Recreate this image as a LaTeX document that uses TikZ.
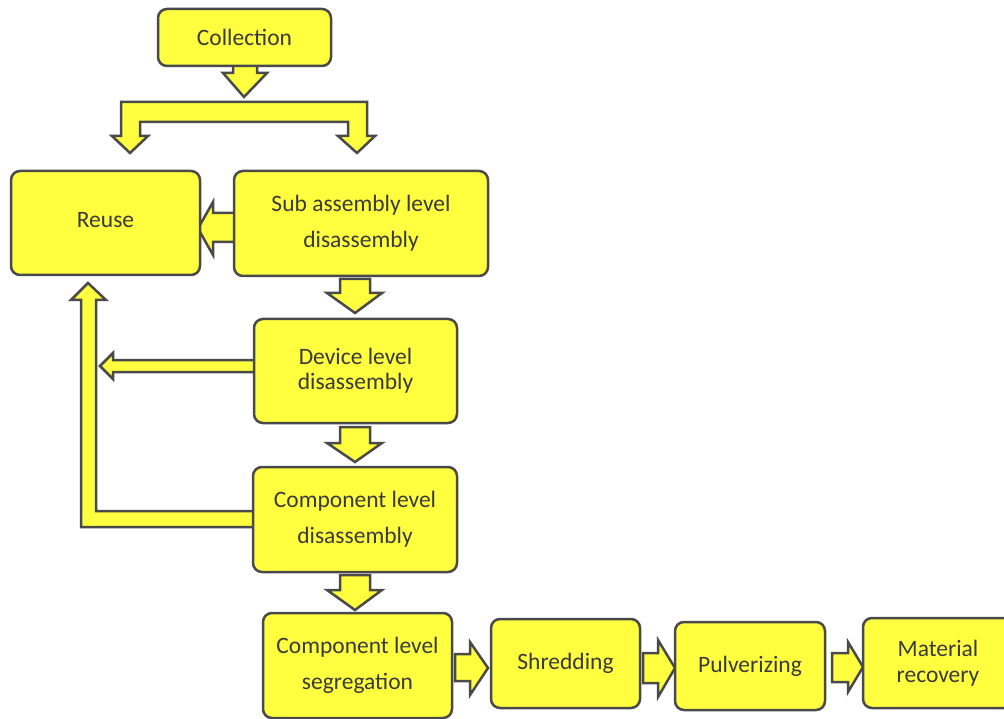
\documentclass[tikz,border=0pt]{standalone}
\usepackage{fontspec}
\setmainfont{Carlito}
\definecolor{yfill}{HTML}{FFFF40}
\definecolor{bline}{HTML}{4A4A4A}
\definecolor{tcol}{HTML}{3A3A3A}
\begin{document}
\begin{tikzpicture}[x=1pt,y=-1pt,
  box/.style={draw=bline,fill=yfill,line width=2.5pt,rounded corners=9pt,
    align=center,text=tcol,inner sep=0pt,
    font=\fontsize{23.5}{26}\selectfont},
  blockarrow/.style={draw=bline,fill=yfill,line width=2.5pt,line join=miter}]
\useasboundingbox (0,0) rectangle (1004,719);
% block arrows (drawn under the boxes)
\draw[blockarrow] (233,64) -- (233,73) -- (223,73) -- (244,97) -- (267,73) -- (257,73) -- (257,64) -- cycle;
\draw[blockarrow] (112,136) -- (130,153) -- (148,136) -- (140,136) -- (140,122) -- (348,122) -- (348,136) -- (338,136) -- (357,153) -- (375,136) -- (367,136) -- (367,102) -- (121,102) -- (121,136) -- cycle;
\draw[blockarrow] (237,213) -- (213,213) -- (213,202) -- (198,228.5) -- (213,255) -- (213,242) -- (237,242) -- cycle;
\draw[blockarrow] (340,279) -- (340,293) -- (327,293) -- (355,313) -- (382,293) -- (370,293) -- (370,279) -- cycle;
\draw[blockarrow] (340,427) -- (340,443) -- (327,443) -- (355,462) -- (382,443) -- (370,443) -- (370,427) -- cycle;
\draw[blockarrow] (340,575) -- (340,590) -- (327,590) -- (355,610) -- (382,590) -- (370,590) -- (370,575) -- cycle;
\draw[blockarrow] (455,654) -- (470,654) -- (470,642) -- (488,668) -- (470,695) -- (470,681) -- (455,681) -- cycle;
\draw[blockarrow] (643,653) -- (658,653) -- (658,640) -- (675,668) -- (658,697) -- (658,683) -- (643,683) -- cycle;
\draw[blockarrow] (832,653) -- (848,653) -- (848,642) -- (863,667) -- (848,692) -- (848,682) -- (832,682) -- cycle;
\draw[blockarrow] (256,360) -- (113,360) -- (113,353) -- (100,366) -- (113,379) -- (113,372) -- (256,372) -- cycle;
\draw[blockarrow] (256,511) -- (96,511) -- (96,300) -- (106,300) -- (88,283) -- (71,300) -- (81,300) -- (81,527) -- (256,527) -- cycle;
% boxes
\node[box,minimum width=173pt,minimum height=57pt] (col) at (244.5,37.5) {Collection};
\node[box,minimum width=189pt,minimum height=104pt] (reuse) at (105.5,223) {\raisebox{6pt}{Reuse}};
\node[box,minimum width=254pt,minimum height=105pt] (sub) at (361,223.5) {Sub assembly level\\[10pt]disassembly};
\node[box,minimum width=203pt,minimum height=104pt] (dev) at (355.5,371) {Device level\\[-1pt]disassembly};
\node[box,minimum width=204pt,minimum height=105pt] (comp) at (355,519.5) {Component level\\[10pt]disassembly};
\node[box,minimum width=189pt,minimum height=105pt] (seg) at (357.5,665.5) {Component level\\[10pt]segregation};
\node[box,minimum width=149pt,minimum height=89pt] (shred) at (565.5,663.5) {Shredding};
\node[box,minimum width=150pt,minimum height=88pt] (pulv) at (750,666) {Pulverizing};
\node[box,minimum width=150pt,minimum height=90pt] (mat) at (938,663) {Material\\[0pt]recovery};
\end{tikzpicture}
\end{document}
